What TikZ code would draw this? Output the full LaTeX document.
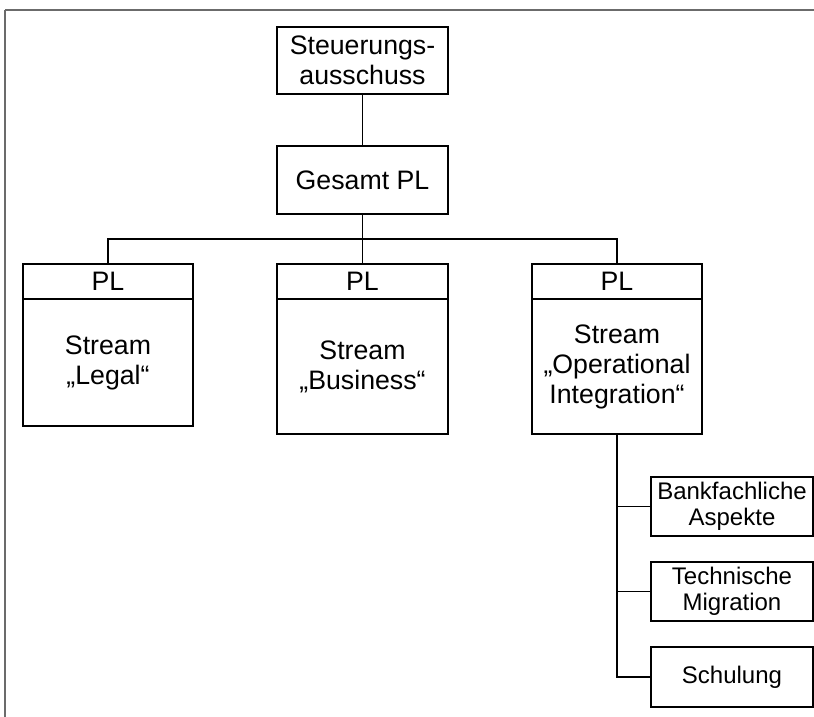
\documentclass[tikz,border=0pt]{standalone}
\usepackage{fontspec}
\setmainfont{Liberation Sans}
\begin{document}
\begin{tikzpicture}[x=1pt,y=-1pt,
  box/.style={draw=black, line width=1.9pt, rectangle, inner sep=0pt,
    align=center, font={\fontsize{26.7}{30}\selectfont}},
  smallbox/.style={box, font={\fontsize{24}{26}\selectfont}},
  link/.style={draw=black, line width=1.6pt},
  frameline/.style={draw=black!58}
]
\useasboundingbox (0,0) rectangle (814,717);

% outer frame (top and left edges only)
\coordinate (fc) at (5,10);
\coordinate (fr) at (814,10);
\coordinate (fb) at (5,717);
\draw[frameline, line width=2.2pt] (fc) -- (fr);
\draw[frameline, line width=1.4pt] (fc) -- (fb);

% top of the hierarchy
\node[box, minimum width=171, minimum height=67] (steer) at (362.5,60.5) {Steuerungs-\\ausschuss};
\node[box, minimum width=171, minimum height=68] (gesamt) at (362.5,180) {Gesamt PL};

% streams: header "PL" and body
\node[box, minimum width=170, minimum height=35] (hL) at (108,281.5) {PL};
\node[box, minimum width=170, minimum height=127] (bL) at (108,362.5) {Stream\\„Legal“};

\node[box, minimum width=171, minimum height=35] (hB) at (362.5,281.5) {PL};
\node[box, minimum width=171, minimum height=135] (bB) at (362.5,366.5) {Stream\\„Business“};

\node[box, minimum width=170, minimum height=35] (hO) at (617,281.5) {PL};
\node[box, minimum width=170, minimum height=135] (bO) at (617,366.5) {Stream\\„Operational\\Integration“};

% sub-units of the operational stream
\node[smallbox, minimum width=162, minimum height=59] (bank) at (732,506.5) {Bankfachliche\\Aspekte};
\node[smallbox, minimum width=162, minimum height=59] (tech) at (732,591.5) {Technische\\Migration};
\node[smallbox, minimum width=162, minimum height=60] (schul) at (732,677) {Schulung};

% connectors
\coordinate (bus) at (362.5,239);
\draw[link] (steer) -- (gesamt);
\draw[link] (gesamt.south) -- (bus);
\draw[link] (hL.north) |- (bus) -| (hO.north);
\draw[link] (bus) -- (hB.north);

\draw[link] (bO.south) |- (schul.west);
\draw[link] (bO.south |- bank.west) -- (bank.west);
\draw[link] (bO.south |- tech.west) -- (tech.west);
\end{tikzpicture}
\end{document}
